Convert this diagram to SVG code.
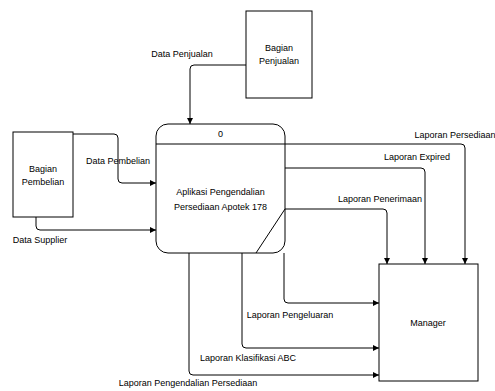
<svg xmlns="http://www.w3.org/2000/svg" width="495" height="391" viewBox="0 0 495 391">
<style>
.box{fill:#fff;stroke:#000;stroke-width:1}
.ln{fill:none;stroke:#000;stroke-width:1}
text{font-family:"Liberation Sans",Arial,sans-serif;font-size:9px;fill:#000}
.c{text-anchor:middle}
</style>
<defs>
<marker id="ar" viewBox="0 0 10 10" refX="10" refY="5" markerWidth="9" markerHeight="6" markerUnits="userSpaceOnUse" orient="auto">
<path d="M0,0 L10,5 L0,10 z" fill="#000"/>
</marker>
</defs>
<rect width="495" height="391" fill="#fff"/>
<g id="connectors">
<path class="ln" marker-end="url(#ar)" d="M246,65 H194 Q190,65 190,69 V124"/>
<path class="ln" marker-end="url(#ar)" d="M73,134 H114 Q118,134 118,138 V179 Q118,183 122,183 H156"/>
<path class="ln" marker-end="url(#ar)" d="M36,217 V226 Q36,230 40,230 H156"/>
<path class="ln" marker-end="url(#ar)" d="M285,144 H461 Q465,144 465,148 V264"/>
<path class="ln" marker-end="url(#ar)" d="M285,168 H421 Q425,168 425,172 V264"/>
<path class="ln" marker-end="url(#ar)" d="M285,209 H383 Q387,209 387,213 V264"/>
<path class="ln" marker-end="url(#ar)" d="M284,253 V299 Q284,303 288,303 H379"/>
<path class="ln" marker-end="url(#ar)" d="M242,253 V344 Q242,348 246,348 H379"/>
<path class="ln" marker-end="url(#ar)" d="M189,253 V371 Q189,375 193,375 H379"/>
<text x="182" y="57" class="c">Data Penjualan</text>
<text x="118" y="164" class="c">Data Pembelian</text>
<text x="40" y="243" class="c">Data Supplier</text>
<text x="455" y="138" class="c">Laporan Persediaan</text>
<text x="417" y="160" class="c">Laporan Expired</text>
<text x="380" y="202" class="c">Laporan Penerimaan</text>
<text x="290" y="318" class="c">Laporan Pengeluaran</text>
<text x="248" y="361" class="c">Laporan Klasifikasi ABC</text>
<text x="188" y="386" class="c">Laporan Pengendalian Persediaan</text>
</g>
<g id="bagian-penjualan">
<rect class="box" x="246" y="11" width="66" height="87"/>
<text x="279" y="51" class="c">Bagian</text>
<text x="279" y="64" class="c">Penjualan</text>
</g>
<g id="bagian-pembelian">
<rect class="box" x="13" y="132" width="60" height="85"/>
<text x="43" y="172" class="c">Bagian</text>
<text x="43" y="185" class="c">Pembelian</text>
</g>
<g id="process">
<rect class="box" x="156" y="124" width="129" height="129" rx="12" ry="12"/>
<line class="ln" x1="156" y1="144" x2="285" y2="144"/>
<line class="ln" x1="285" y1="209" x2="256" y2="253"/>
<text x="220.5" y="137" class="c">0</text>
<text x="220.5" y="195" class="c">Aplikasi Pengendalian</text>
<text x="220.5" y="210" class="c">Persediaan Apotek 178</text>
</g>
<g id="manager">
<rect class="box" x="379" y="264" width="99" height="117"/>
<text x="428" y="326" class="c">Manager</text>
</g>
</svg>
